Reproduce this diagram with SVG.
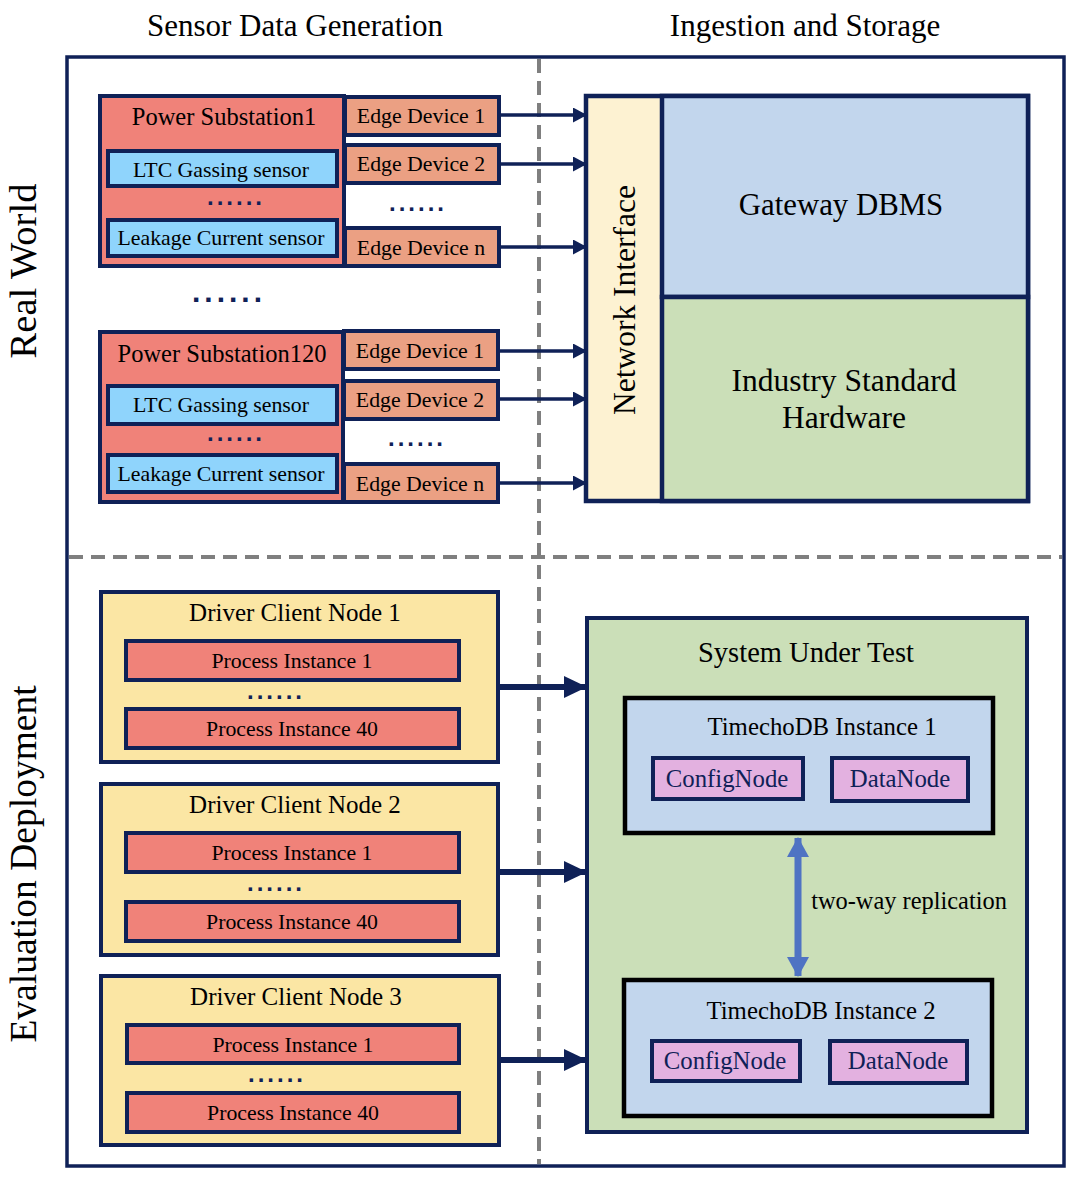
<svg xmlns="http://www.w3.org/2000/svg" width="1080" height="1180" viewBox="0 0 1080 1180">
<defs>
<style>
text{font-family:"Liberation Serif","Times New Roman",serif;fill:#000;}
.nv{stroke:#0f2157;stroke-width:4;}
.ps{fill:#f08279;}
.sen{fill:#8fd4fc;}
.edge{fill:#eba083;}
.dcn{fill:#fbe6a4;}
.pi{fill:#f08279;}
.cn{fill:#e3b1e0;}
.tdb{fill:#c2d6ed;stroke:#000;stroke-width:4.5;}
.t21{font-size:21.8px;text-anchor:middle;}
.t24{font-size:25px;text-anchor:middle;}
.dots{font-family:"Liberation Sans",Arial,sans-serif;font-weight:bold;fill:#0f2157;font-size:24px;letter-spacing:3px;}
.dash{stroke:#7f7f7f;stroke-width:4;stroke-dasharray:14 8;fill:none;}
.thin{stroke:#0f2157;stroke-width:3.5;fill:none;}
.thick{stroke:#0f2157;stroke-width:6;fill:none;}
</style>
<marker id="ah" markerUnits="userSpaceOnUse" markerWidth="14" markerHeight="15" refX="13" refY="7.5" orient="auto"><path d="M0,0 L14,7.5 L0,15 z" fill="#0f2157"/></marker>
<marker id="ahb" markerUnits="userSpaceOnUse" markerWidth="23" markerHeight="22" refX="22" refY="11" orient="auto"><path d="M0,0 L23,11 L0,22 z" fill="#0f2157"/></marker>
<marker id="ahx" markerUnits="userSpaceOnUse" markerWidth="20" markerHeight="22" refX="19" refY="11" orient="auto-start-reverse"><path d="M0,0 L20,11 L0,22 z" fill="#4f73c3"/></marker>
</defs>
<rect width="1080" height="1180" fill="#fff"/>

<g id="headers">
<text x="295" y="36" style="font-size:31px" text-anchor="middle">Sensor Data Generation</text>
<text x="805" y="36" style="font-size:31px" text-anchor="middle">Ingestion and Storage</text>
<text transform="translate(36,271) rotate(-90)" style="font-size:38.5px" text-anchor="middle">Real World</text>
<text transform="translate(36,864) rotate(-90)" style="font-size:37.5px" text-anchor="middle">Evaluation Deployment</text>
</g>

<g id="frame">
<rect x="67" y="57" width="997" height="1109" fill="none" stroke="#0f2157" stroke-width="3.5"/>
<line class="dash" x1="539" y1="59" x2="539" y2="1164"/>
<line class="dash" x1="69" y1="557" x2="1062" y2="557"/>
</g>

<g id="substation1">
<rect class="ps nv" x="100" y="96" width="244" height="170"/>
<text x="224" y="125" style="font-size:24.5px" text-anchor="middle">Power Substation1</text>
<rect class="sen nv" x="108" y="151" width="229" height="35"/>
<text class="t21" x="221" y="177">LTC Gassing  sensor</text>
<text class="dots" x="207" y="205">......</text>
<rect class="sen nv" x="108" y="220" width="229" height="36"/>
<text class="t21" x="221" y="245">Leakage Current sensor</text>
</g>
<g id="edges1">
<rect class="edge nv" x="345" y="97" width="154" height="38"/>
<text class="t21" x="421" y="123">Edge Device 1</text>
<rect class="edge nv" x="345" y="145" width="154" height="38"/>
<text class="t21" x="421" y="171">Edge Device 2</text>
<text class="dots" x="389" y="211">......</text>
<rect class="edge nv" x="345" y="228" width="154" height="38"/>
<text class="t21" x="421" y="255">Edge Device n</text>
</g>

<text class="dots" x="192" y="302" style="font-size:30px;letter-spacing:4px">......</text>

<g id="substation120">
<rect class="ps nv" x="100" y="332" width="243" height="170"/>
<text x="222" y="362" style="font-size:24.5px" text-anchor="middle">Power Substation120</text>
<rect class="sen nv" x="108" y="386" width="229" height="38"/>
<text class="t21" x="221" y="412">LTC Gassing  sensor</text>
<text class="dots" x="207" y="441">......</text>
<rect class="sen nv" x="108" y="455" width="229" height="37"/>
<text class="t21" x="221" y="481">Leakage Current sensor</text>
</g>
<g id="edges120">
<rect class="edge nv" x="344" y="331" width="154" height="38"/>
<text class="t21" x="420" y="358">Edge Device 1</text>
<rect class="edge nv" x="344" y="381" width="154" height="38"/>
<text class="t21" x="420" y="407">Edge Device 2</text>
<text class="dots" x="388" y="446">......</text>
<rect class="edge nv" x="344" y="464" width="154" height="38"/>
<text class="t21" x="420" y="491">Edge Device n</text>
</g>

<g id="gateway">
<rect x="586" y="96" width="442" height="405" fill="#fdf2d2" stroke="#0f2157" stroke-width="4.5"/>
<rect x="662" y="96" width="366" height="201" fill="#c2d6ed" stroke="#0f2157" stroke-width="4.5"/>
<rect x="662" y="297" width="366" height="204" fill="#cbdfb8" stroke="#0f2157" stroke-width="4.5"/>
<text transform="translate(635,300) rotate(-90)" style="font-size:31.5px" text-anchor="middle">Network Interface</text>
<text x="841" y="215" style="font-size:30.8px" text-anchor="middle">Gateway DBMS</text>
<text x="844" y="391" style="font-size:31.5px" text-anchor="middle">Industry Standard</text>
<text x="844" y="428" style="font-size:31.5px" text-anchor="middle">Hardware</text>
</g>

<g id="driver1">
<rect class="dcn nv" x="101" y="592" width="397" height="170"/>
<text class="t24" x="295" y="621">Driver Client Node 1</text>
<rect class="pi nv" x="126" y="641" width="333" height="39"/>
<text class="t21" x="292" y="668">Process Instance 1</text>
<text class="dots" x="247" y="699">......</text>
<rect class="pi nv" x="126" y="709" width="333" height="39"/>
<text class="t21" x="292" y="736">Process Instance 40</text>
</g>
<g id="driver2">
<rect class="dcn nv" x="101" y="784" width="397" height="171"/>
<text class="t24" x="295" y="813">Driver Client Node 2</text>
<rect class="pi nv" x="126" y="833" width="333" height="39"/>
<text class="t21" x="292" y="860">Process Instance 1</text>
<text class="dots" x="247" y="891">......</text>
<rect class="pi nv" x="126" y="902" width="333" height="39"/>
<text class="t21" x="292" y="929">Process Instance 40</text>
</g>
<g id="driver3">
<rect class="dcn nv" x="101" y="976" width="398" height="169"/>
<text class="t24" x="296" y="1005">Driver Client Node 3</text>
<rect class="pi nv" x="127" y="1025" width="332" height="38"/>
<text class="t21" x="293" y="1052">Process Instance 1</text>
<text class="dots" x="248" y="1082">......</text>
<rect class="pi nv" x="127" y="1093" width="332" height="39"/>
<text class="t21" x="293" y="1120">Process Instance 40</text>
</g>

<g id="sut">
<rect x="587" y="618" width="440" height="514" fill="#cbdfb8" stroke="#0f2157" stroke-width="4"/>
<text x="806" y="662" style="font-size:28.5px" text-anchor="middle">System Under Test</text>
</g>
<g id="timecho1">
<rect class="tdb" x="625" y="698" width="368" height="135"/>
<text x="822" y="735" style="font-size:24.8px" text-anchor="middle">TimechoDB  Instance 1</text>
<rect class="cn nv" x="653" y="758" width="150" height="41"/>
<text x="727" y="787" style="font-size:24.8px;fill:#0f2157" text-anchor="middle">ConfigNode</text>
<rect class="cn nv" x="832" y="758" width="136" height="43"/>
<text x="900" y="787" style="font-size:24.8px;fill:#0f2157" text-anchor="middle">DataNode</text>
</g>
<g id="timecho2">
<rect class="tdb" x="624" y="980" width="368" height="136"/>
<text x="821" y="1019" style="font-size:24.8px" text-anchor="middle">TimechoDB  Instance 2</text>
<rect class="cn nv" x="652" y="1041" width="148" height="40"/>
<text x="725" y="1069" style="font-size:24.8px;fill:#0f2157" text-anchor="middle">ConfigNode</text>
<rect class="cn nv" x="830" y="1041" width="137" height="42"/>
<text x="898" y="1069" style="font-size:24.8px;fill:#0f2157" text-anchor="middle">DataNode</text>
</g>

<g id="connectors">
<line class="thin" x1="500" y1="115" x2="586" y2="115" marker-end="url(#ah)"/>
<line class="thin" x1="500" y1="164" x2="586" y2="164" marker-end="url(#ah)"/>
<line class="thin" x1="500" y1="247" x2="586" y2="247" marker-end="url(#ah)"/>
<line class="thin" x1="499" y1="351" x2="586" y2="351" marker-end="url(#ah)"/>
<line class="thin" x1="499" y1="399" x2="586" y2="399" marker-end="url(#ah)"/>
<line class="thin" x1="499" y1="483" x2="586" y2="483" marker-end="url(#ah)"/>
<line class="thick" x1="499" y1="687" x2="586" y2="687" marker-end="url(#ahb)"/>
<line class="thick" x1="499" y1="872" x2="586" y2="872" marker-end="url(#ahb)"/>
<line class="thick" x1="500" y1="1060" x2="586" y2="1060" marker-end="url(#ahb)"/>
<line x1="798" y1="838" x2="798" y2="976" stroke="#4f73c3" stroke-width="7" marker-start="url(#ahx)" marker-end="url(#ahx)"/>
<text x="909" y="909" style="font-size:24.4px" text-anchor="middle">two-way replication</text>
</g>
</svg>
